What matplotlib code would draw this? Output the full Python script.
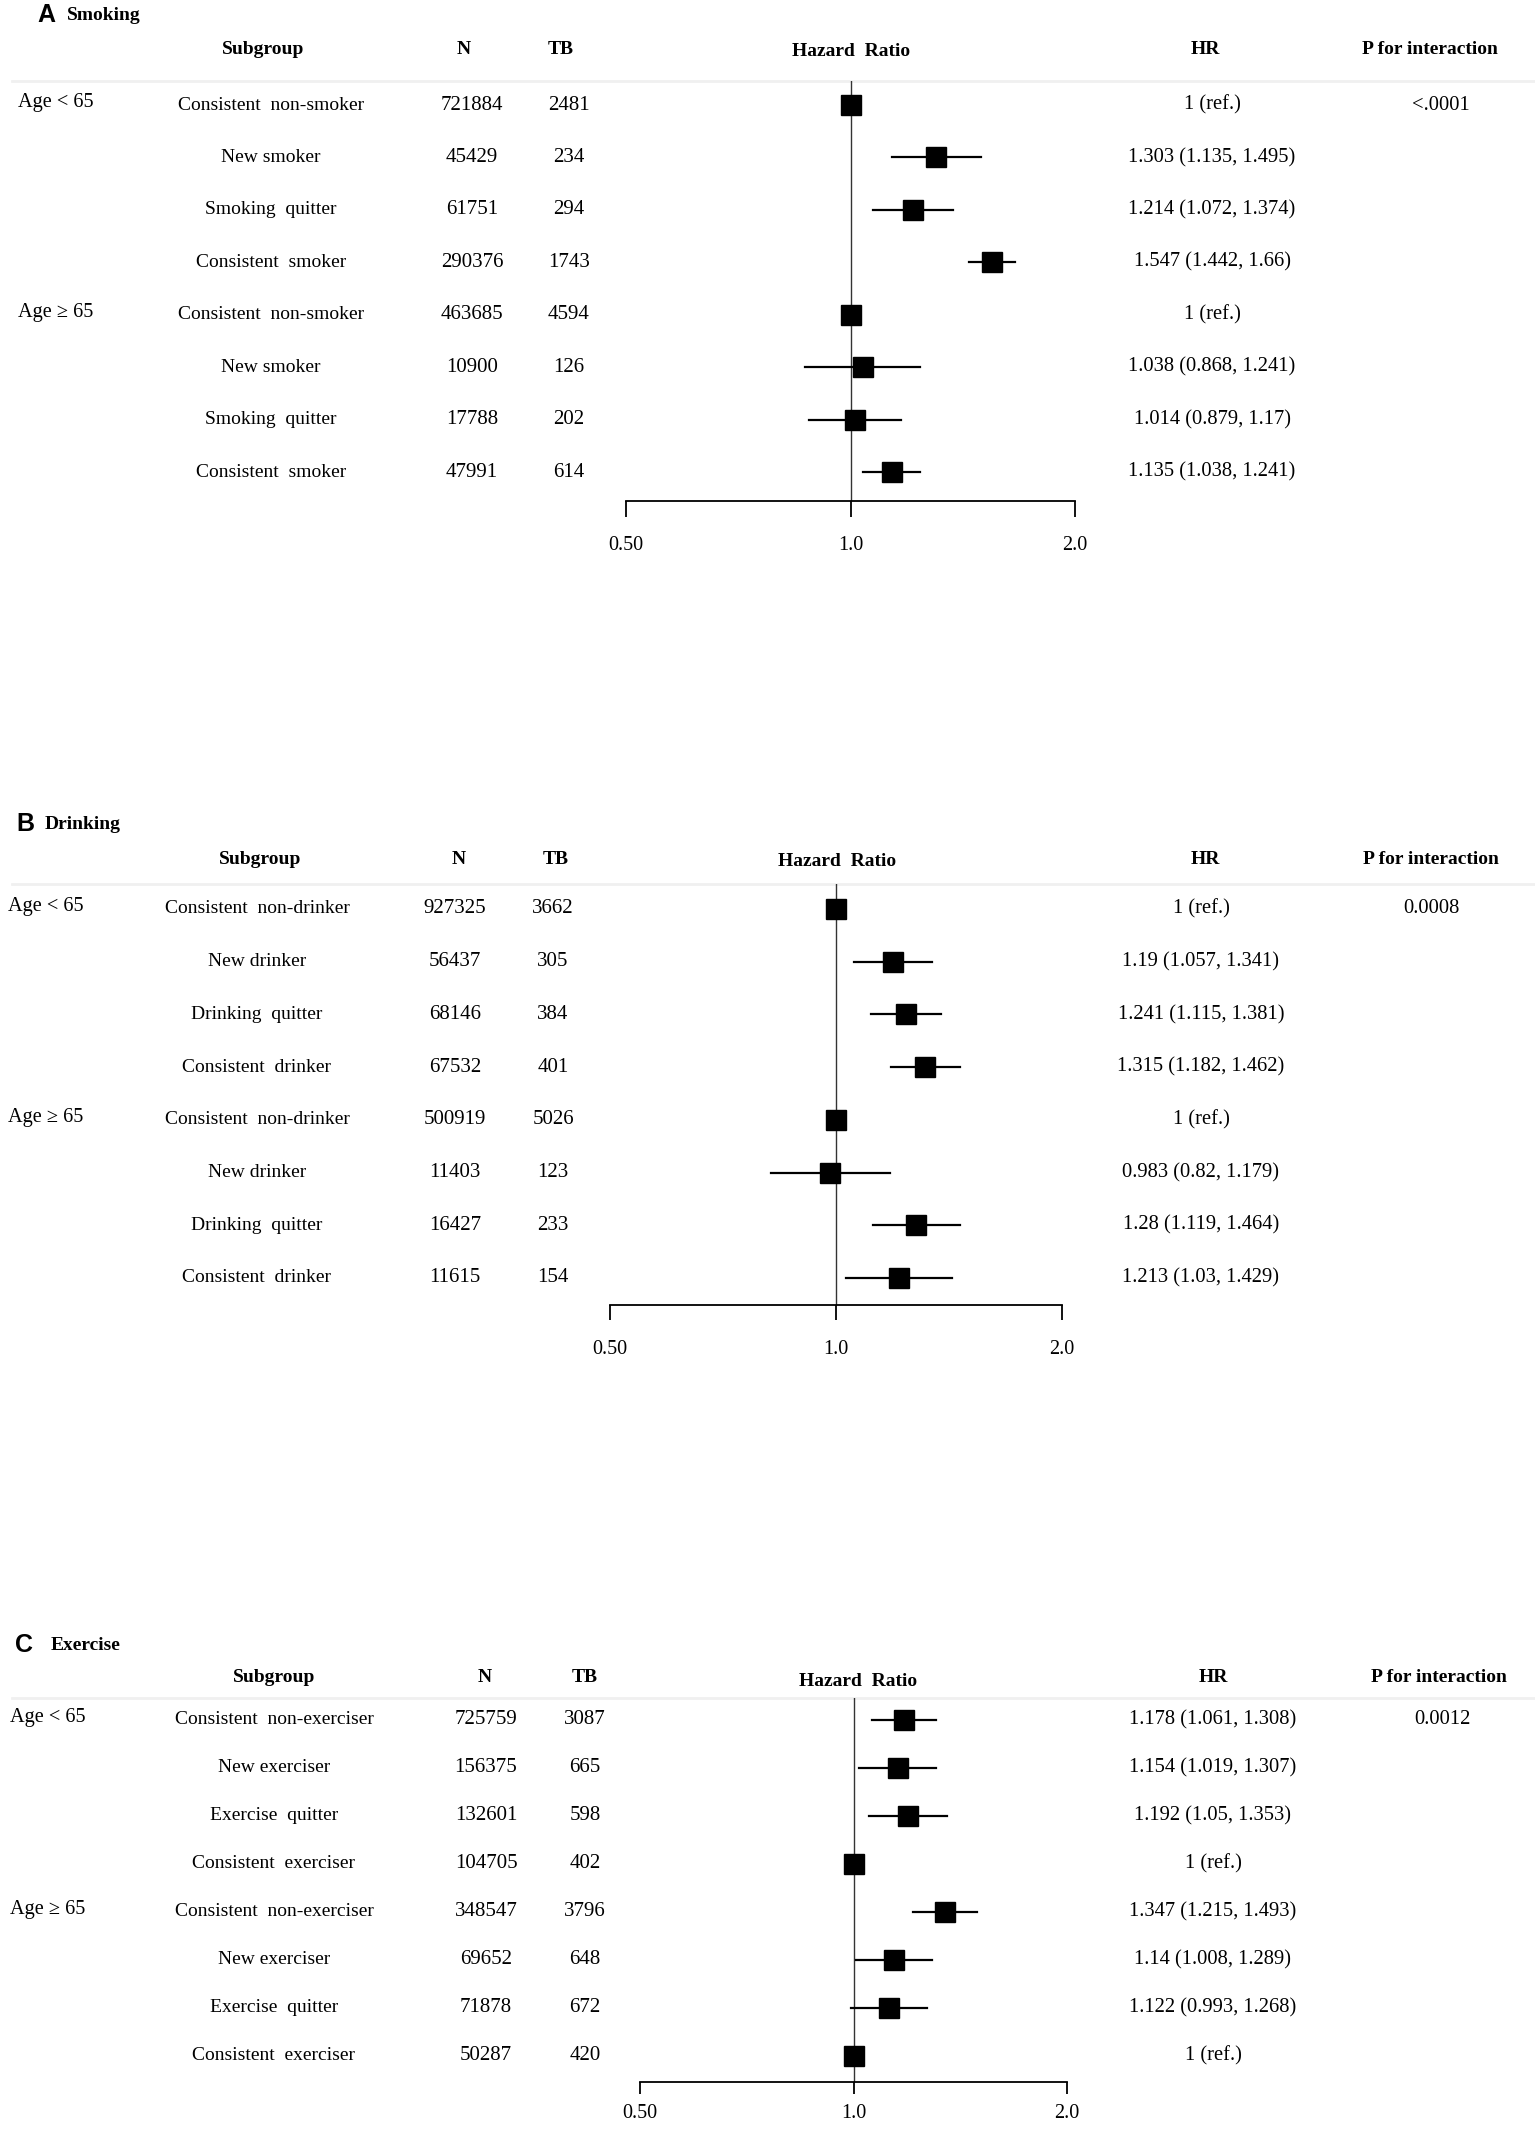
import matplotlib
matplotlib.use("Agg")
import matplotlib.pyplot as plt
from matplotlib import transforms
from matplotlib.lines import Line2D
from matplotlib.ticker import NullLocator

W, H = 1535, 2130
plt.rcParams['font.family'] = ['Liberation Serif', 'DejaVu Serif']
plt.rcParams['font.size'] = 14

# ---- data ----
ages = ['Age < 65', 'Age \u2265 65']

smk_groups = ['Consistent  non-smoker', 'New smoker', 'Smoking  quitter', 'Consistent  smoker'] * 2
smk_n = [721884, 45429, 61751, 290376, 463685, 10900, 17788, 47991]
smk_tb = [2481, 234, 294, 1743, 4594, 126, 202, 614]
smk_hr = [1, 1.303, 1.214, 1.547, 1, 1.038, 1.014, 1.135]
smk_lo = [None, 1.135, 1.072, 1.442, None, 0.868, 0.879, 1.038]
smk_hi = [None, 1.495, 1.374, 1.66, None, 1.241, 1.17, 1.241]
smk_p = '<.0001'

drk_groups = ['Consistent  non-drinker', 'New drinker', 'Drinking  quitter', 'Consistent  drinker'] * 2
drk_n = [927325, 56437, 68146, 67532, 500919, 11403, 16427, 11615]
drk_tb = [3662, 305, 384, 401, 5026, 123, 233, 154]
drk_hr = [1, 1.19, 1.241, 1.315, 1, 0.983, 1.28, 1.213]
drk_lo = [None, 1.057, 1.115, 1.182, None, 0.82, 1.119, 1.03]
drk_hi = [None, 1.341, 1.381, 1.462, None, 1.179, 1.464, 1.429]
drk_p = '0.0008'

exe_groups = ['Consistent  non-exerciser', 'New exerciser', 'Exercise  quitter', 'Consistent  exerciser'] * 2
exe_n = [725759, 156375, 132601, 104705, 348547, 69652, 71878, 50287]
exe_tb = [3087, 665, 598, 402, 3796, 648, 672, 420]
exe_hr = [1.178, 1.154, 1.192, 1, 1.347, 1.14, 1.122, 1]
exe_lo = [1.061, 1.019, 1.05, None, 1.215, 1.008, 0.993, None]
exe_hi = [1.308, 1.307, 1.353, None, 1.493, 1.289, 1.268, None]
exe_p = '0.0012'

ticks = [0.5, 1.0, 2.0]
tick_labels = ['0.50', '1.0', '2.0']

# ---- layout (pixels) ----
panels = [
    dict(letter='A', name='Smoking', groups=smk_groups, n=smk_n, tb=smk_tb, hr=smk_hr, lo=smk_lo, hi=smk_hi, p=smk_p,
         title_y=15, letter_x=37, name_x=67, head_y=49, line_y=81, row0=105, dy=52.43, axis_y=501,
         x0=626, x1=1075, age_x=18, sub=(271, 263), ncol=(472, 464), tbcol=(569, 561), haz=851,
         hrcol=(1212, 1205), pcol=(1441, 1430), tlen=11.5, tpad=14),
    dict(letter='B', name='Drinking', groups=drk_groups, n=drk_n, tb=drk_tb, hr=drk_hr, lo=drk_lo, hi=drk_hi, p=drk_p,
         title_y=824, letter_x=16, name_x=45, head_y=859, line_y=884, row0=909, dy=52.7, axis_y=1305,
         x0=610, x1=1062, age_x=8, sub=(257, 260), ncol=(455, 459), tbcol=(553, 556), haz=837,
         hrcol=(1201, 1205), pcol=(1431, 1431), tlen=11, tpad=14),
    dict(letter='C', name='Exercise', groups=exe_groups, n=exe_n, tb=exe_tb, hr=exe_hr, lo=exe_lo, hi=exe_hi, p=exe_p,
         title_y=1645, letter_x=15, name_x=51, head_y=1678, line_y=1698, row0=1720, dy=48.0, axis_y=2082,
         x0=640, x1=1067, age_x=10, sub=(274, 274), ncol=(486, 485), tbcol=(585, 585), haz=858,
         hrcol=(1213, 1213), pcol=(1442, 1439), tlen=8.6, tpad=7.5),
]

fig = plt.figure(figsize=(W / 100, H / 100), dpi=100)


def fx(x):
    return x / W


def fy(y):
    return 1 - y / H


for pn in panels:
    ax = fig.add_axes([fx(pn['x0']), fy(pn['axis_y']), fx(pn['x1'] - pn['x0']),
                       (pn['axis_y'] - pn['line_y']) / H])
    ax.set_xscale('log')
    ax.set_xlim(0.5, 2.0)
    ax.set_ylim((pn['axis_y'] - pn['row0']) / pn['dy'], (pn['line_y'] - pn['row0']) / pn['dy'])
    for s in ['top', 'left', 'right']:
        ax.spines[s].set_visible(False)
    ax.spines['bottom'].set_linewidth(1.3)
    ax.set_yticks([])
    ax.set_xticks(ticks)
    ax.set_xticklabels(tick_labels)
    ax.xaxis.set_minor_locator(NullLocator())
    ax.tick_params(axis='x', direction='out', length=pn['tlen'], width=1.3, pad=pn['tpad'], labelsize=14.5)
    ax.patch.set_alpha(0)
    ax.axvline(1.0, color='#333333', lw=1.0, zorder=1)

    for i in range(len(pn['hr'])):
        if pn['lo'][i] is not None:
            ax.plot([pn['lo'][i], pn['hi'][i]], [i, i], color='black', lw=1.6, zorder=2)
        ax.plot(pn['hr'][i], i, marker='s', color='black', ms=14.5, zorder=3)

    tr = transforms.blended_transform_factory(fig.transFigure, ax.transData)
    for i in range(len(pn['hr'])):
        ax.text(fx(pn['sub'][0]), i, pn['groups'][i], transform=tr, ha='center', va='center')
        ax.text(fx(pn['ncol'][0]), i, str(pn['n'][i]), transform=tr, ha='center', va='center', fontsize=15)
        ax.text(fx(pn['tbcol'][0]), i, str(pn['tb'][i]), transform=tr, ha='center', va='center', fontsize=15)
        if pn['lo'][i] is None:
            label = '1 (ref.)'
        else:
            label = f"{pn['hr'][i]:g} ({pn['lo'][i]:g}, {pn['hi'][i]:g})"
        ax.text(fx(pn['hrcol'][0]), i, label, transform=tr, ha='center', va='center', fontsize=14.8)
    for k, age in enumerate(ages):
        ax.text(fx(pn['age_x']), 4 * k - 0.05, age, transform=tr, ha='left', va='center', fontsize=14.6)
    ax.text(fx(pn['pcol'][0]), 0, pn['p'], transform=tr, ha='center', va='center', fontsize=14.8)

    # panel title
    fig.text(fx(pn['letter_x']), fy(pn['title_y']), pn['letter'], family=['Liberation Sans', 'DejaVu Sans'],
             fontweight='bold', fontsize=18, ha='left', va='center')
    fig.text(fx(pn['name_x']), fy(pn['title_y']), pn['name'], fontweight='bold', fontsize=14,
             ha='left', va='center')

    # headers
    hy = fy(pn['head_y'])
    fig.text(fx(pn['sub'][1]), hy, 'Subgroup', fontweight='bold', ha='center', va='center')
    fig.text(fx(pn['ncol'][1]), hy, 'N', fontweight='bold', ha='center', va='center')
    fig.text(fx(pn['tbcol'][1]), hy, 'TB', fontweight='bold', ha='center', va='center')
    fig.text(fx(pn['haz']), hy - 3 / H, 'Hazard  Ratio', fontweight='bold', ha='center', va='center')
    fig.text(fx(pn['hrcol'][1]), hy, 'HR', fontweight='bold', ha='center', va='center')
    fig.text(fx(pn['pcol'][1]), hy, 'P for interaction', fontweight='bold', ha='center', va='center')

    fig.add_artist(Line2D([fx(12), 1.0], [fy(pn['line_y']), fy(pn['line_y'])],
                          transform=fig.transFigure, color='#f0f0f0', lw=2, zorder=0))

fig.savefig('out.png', dpi=100, facecolor='white')
